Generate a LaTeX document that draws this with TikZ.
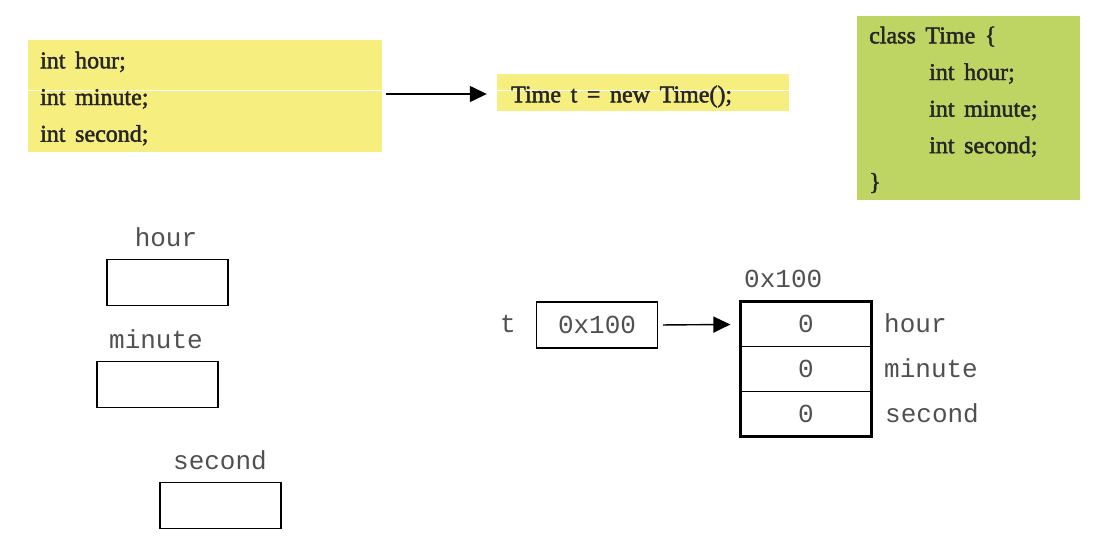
\documentclass[tikz,border=0pt]{standalone}
\usepackage{fontspec}
\setmainfont{Liberation Serif}
\setmonofont{Liberation Mono}
\newfontfamily\codefont[WordSpace=1.6]{Liberation Serif}
\newcommand\heavytext[1]{\special{pdf:literal direct 2 Tr 0.45 w}#1\special{pdf:literal direct 0 Tr}}
\usetikzlibrary{arrows.meta}
\definecolor{codeyellow}{RGB}{247,238,128}
\definecolor{codegreen}{RGB}{190,213,100}
\definecolor{memtext}{RGB}{80,80,80}
\begin{document}
\begin{tikzpicture}[x=1pt,y=-1pt]
  \tikzset{ box/.style={inner sep=0pt},
    code/.style={inner sep=0pt,anchor=base west,text=black!85,font=\fontsize{24}{24}\codefont},
    var/.style={draw,line width=1.4pt,minimum width=121pt,minimum height=46pt,inner sep=0pt,font=\fontsize{26}{26}\ttfamily,text=memtext},
    cell/.style={draw,line width=1.2pt,minimum width=130pt,minimum height=44.6pt,inner sep=0pt,font=\fontsize{26}{26}\ttfamily,text=memtext},
    lbl/.style={inner sep=0pt,anchor=base,font=\fontsize{26}{26}\ttfamily,text=memtext},
    arr/.style={-{Triangle[length=17pt,width=16pt]},line width=1.4pt},
  }
  \useasboundingbox (0,0) rectangle (1102,552);
  % the code boxes
  \node[box,fill=codeyellow,minimum width=354pt,minimum height=112pt] (decl) at (205,96) {};
  \node[box,fill=codeyellow,minimum width=292pt,minimum height=37pt] (new) at (643,92.5) {};
  \node[box,fill=codegreen,minimum width=223pt,minimum height=184pt] (cls) at (968.5,108) {};
  \draw[white,line width=1pt] (28,90.5) -- (382,90.5);
  \draw[white,line width=1pt] (497,90.5) -- (789,90.5);
  \node[code] (d1) at (40,68.3) {\heavytext{int hour;}};
  \node[code] (d2) at (40,105) {\heavytext{int minute;}};
  \node[code] (d3) at (40,141.7) {\heavytext{int second;}};
  \node[code] (n1) at (511,102.3) {\heavytext{Time t = new Time();}};
  \node[code] (k1) at (869,43.3) {\heavytext{class Time \{}};
  \node[code] (k2) at (929,80) {\heavytext{int hour;}};
  \node[code] (k3) at (929,116.6) {\heavytext{int minute;}};
  \node[code] (k4) at (929,153.2) {\heavytext{int second;}};
  \node[code] (k5) at (869,189.8) {\heavytext{\}}};
  \draw[arr,shorten <=4pt,shorten >=10pt] ([yshift=2pt]decl.east) -- ([yshift=2pt]decl.east -| new.west);

  % separate variables
  \node[lbl] (hourl) at (166,246) {hour};
  \node[var] (hour) at (167.5,282.5) {};
  \node[lbl] (minutel) at (156,348.3) {minute};
  \node[var] (minute) at (157.5,384.5) {};
  \node[lbl] (secondl) at (220,469.3) {second};
  \node[var] (second) at (220.5,505.5) {};

  % reference and object
  \node[lbl] (tl) at (508,332) {t};
  \node[var] (ptr) at (597,325) {0x100};
  \node[cell] (c1) at (806,324.4) {0};
  \node[cell] (c2) at (806,369) {0};
  \node[cell] (c3) at (806,413.7) {0};
  \draw[line width=3pt] (c1.north west) rectangle (c3.south east);
  \node[lbl,anchor=base west] (addr) at (744,287) {0x100};
  \node[lbl,anchor=base west] (f1) at (884,332) {hour};
  \node[lbl,anchor=base west] (f2) at (884,377) {minute};
  \node[lbl,anchor=base west] (f3) at (885,422) {second};
  \draw[arr,shorten <=5pt,shorten >=10pt] (ptr.east) -- (c1.west);
\end{tikzpicture}
\end{document}
